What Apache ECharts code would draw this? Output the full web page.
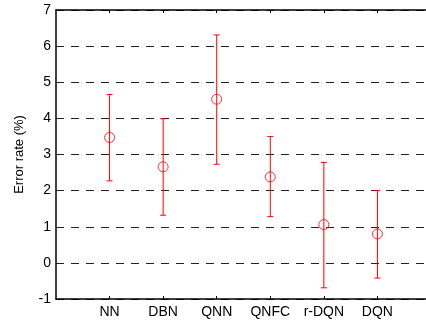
<!DOCTYPE html>
<html>
<head>
<meta charset="utf-8">
<script src="https://cdn.jsdelivr.net/npm/echarts@6/dist/echarts.min.js"></script>
<style>
html,body{margin:0;padding:0;background:#fff;overflow:hidden;}
#chart{width:426px;height:323px;}
</style>
</head>
<body>
<div id="chart"></div>
<script>
const categories = ['NN', 'DBN', 'QNN', 'QNFC', 'r-DQN', 'DQN'];
const means = [3.47, 2.66, 4.53, 2.38, 1.06, 0.80];
const upper = [4.66, 3.99, 6.31, 3.50, 2.78, 2.00];
const lower = [2.27, 1.32, 2.73, 1.28, -0.69, -0.42];
const yTicks = [-1, 0, 1, 2, 3, 4, 5, 6, 7];
const xPositions = categories.map((c, i) => i + 1);

const chart = echarts.init(document.getElementById('chart'), null, {renderer: 'canvas'});
const font = 'Liberation Sans, Arial, Helvetica, sans-serif';
const red = '#ff0000';

const meanData = means.map((v, i) => [xPositions[i], v]);
const barData = means.map((v, i) => [xPositions[i], lower[i], upper[i]]);

const xAxisCommon = {
  type: 'value', min: 0, max: 7,
  splitLine: {show: false},
  splitArea: {show: false},
  minorTick: {show: false},
  minorSplitLine: {show: false}
};

chart.setOption({
  animation: false,
  backgroundColor: '#fff',
  grid: {show: false, borderWidth: 0, left: 56, top: 10, width: 375, height: 289,
         containLabel: false, outerBoundsMode: 'none'},
  xAxis: [Object.assign({}, xAxisCommon, {
    position: 'bottom',
    axisLine: {show: true, onZero: false, lineStyle: {color: '#000', width: 1.5}},
    axisTick: {show: true, inside: true, length: 3, customValues: xPositions, lineStyle: {color: '#000', width: 1}},
    axisLabel: {
      customValues: xPositions, margin: 6, color: '#000', fontSize: 14, fontFamily: font,
      formatter: v => categories[Math.round(v) - 1] || ''
    }
  }), Object.assign({}, xAxisCommon, {
    position: 'top',
    axisLine: {show: true, onZero: false, lineStyle: {color: '#000', width: 1.5}},
    axisTick: {show: true, inside: true, length: 3, customValues: xPositions, lineStyle: {color: '#000', width: 1}},
    axisLabel: {show: false}
  })],
  yAxis: {
    type: 'value', min: -1, max: 7, interval: 1,
    name: 'Error rate (%)', nameLocation: 'middle', nameGap: 30,
    nameTextStyle: {color: '#000', fontSize: 13, fontFamily: font},
    axisLine: {show: true, onZero: false, lineStyle: {color: '#000', width: 1.5}},
    axisTick: {show: false},
    axisLabel: {
      customValues: yTicks, margin: 5, color: '#000', fontSize: 14, fontFamily: font
    },
    splitArea: {show: false},
    splitLine: {show: true, lineStyle: {color: '#222', width: 1, type: [8, 7]}}
  },
  series: [{
    type: 'custom',
    data: barData,
    encode: {x: 0, y: [1, 2]},
    renderItem: function (params, api) {
      const x = api.value(0);
      const lo = api.coord([x, api.value(1)]);
      const hi = api.coord([x, api.value(2)]);
      const cap = 3;
      const style = {stroke: red, lineWidth: 1, fill: null};
      return {
        type: 'group',
        children: [
          {type: 'line', shape: {x1: lo[0], y1: lo[1], x2: hi[0], y2: hi[1]}, style: style},
          {type: 'line', shape: {x1: hi[0] - cap, y1: hi[1], x2: hi[0] + cap, y2: hi[1]}, style: style},
          {type: 'line', shape: {x1: lo[0] - cap, y1: lo[1], x2: lo[0] + cap, y2: lo[1]}, style: style}
        ]
      };
    },
    z: 3
  }, {
    type: 'scatter',
    data: meanData,
    symbol: 'circle',
    symbolSize: 10,
    itemStyle: {color: 'transparent', borderColor: red, borderWidth: 1},
    z: 4
  }]
});
</script>
</body>
</html>
